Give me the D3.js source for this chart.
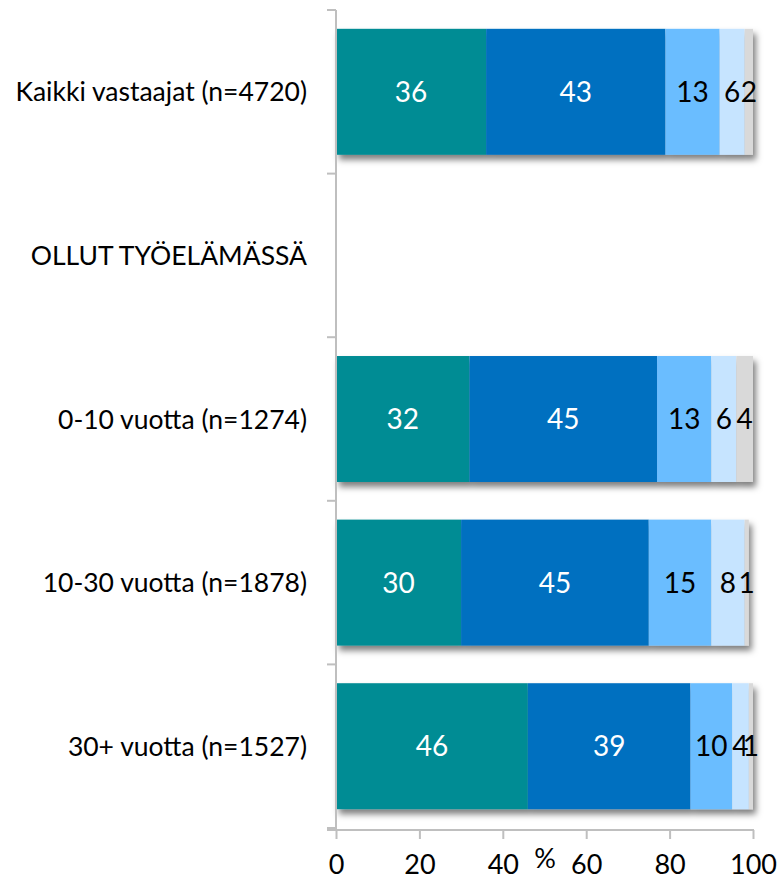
<!DOCTYPE html>
<html>
<head>
<meta charset="utf-8">
<script src="https://cdn.jsdelivr.net/npm/d3@7"></script>
<style>
  body { margin: 0; background: #fff; }
  svg { display: block; font-family: Lato, "Open Sans", sans-serif; }
</style>
</head>
<body>
<div id="chart"></div>
<script>
// data
var categories = ["Kaikki vastaajat (n=4720)", "OLLUT TYÖELÄMÄSSÄ", "0-10 vuotta (n=1274)", "10-30 vuotta (n=1878)", "30+ vuotta (n=1527)"];
var s1 = [36, null, 32, 30, 46];
var s2 = [43, null, 45, 45, 39];
var s3 = [13, null, 13, 15, 10];
var s4 = [6, null, 6, 8, 4];
var s5 = [2, null, 4, 1, 1];
var colors = ["#008C94", "#0070C0", "#6BBDFF", "#C6E4FF", "#D9D9D9"];
var textColors = ["#fff", "#fff", "#000", "#000", "#000"];
var xTicks = [0, 20, 40, 60, 80, 100];

var width = 782, height = 884;
var plotLeft = 336, plotRight = 753, plotTop = 10, plotBottom = 828;

var svg = d3.select("#chart").append("svg")
  .attr("width", width)
  .attr("height", height);

var defs = svg.append("defs");
var f = defs.append("filter").attr("id", "shadow")
  .attr("x", "-5%").attr("y", "-10%").attr("width", "115%").attr("height", "130%");
f.append("feDropShadow").attr("dx", 3).attr("dy", 5).attr("stdDeviation", 3)
  .attr("flood-color", "#000").attr("flood-opacity", 0.5);

var xScale = d3.scaleLinear().domain([0, 100]).range([plotLeft, plotRight]);
var yScale = d3.scaleBand().domain(categories).range([plotTop, plotBottom]).paddingInner(0.23).paddingOuter(0.115);

var rows = categories.map(function(c, i) {
  return { cat: c, vals: [s1[i], s2[i], s3[i], s4[i], s5[i]] };
});

// bars
rows.forEach(function(r) {
  if (r.vals[0] == null) return;
  var g = svg.append("g").attr("filter", "url(#shadow)");
  var acc = 0;
  var segs = r.vals.map(function(v, j) {
    var s = { x0: acc, x1: acc + v, v: v, j: j };
    acc += v;
    return s;
  });
  g.selectAll("rect").data(segs).enter().append("rect")
    .attr("x", d => xScale(d.x0))
    .attr("width", d => xScale(d.x1) - xScale(d.x0))
    .attr("y", yScale(r.cat))
    .attr("height", yScale.bandwidth())
    .attr("fill", d => colors[d.j]);
  svg.append("g").selectAll("text").data(segs).enter().append("text")
    .attr("x", d => xScale((d.x0 + d.x1) / 2))
    .attr("y", yScale(r.cat) + yScale.bandwidth() / 2)
    .attr("dy", "0.36em")
    .attr("text-anchor", "middle")
    .attr("font-size", 28)
    .attr("fill", d => textColors[d.j])
    .text(d => d.v);
});

// y axis
var yg = svg.append("g").attr("transform", "translate(" + plotLeft + ",0)");
yg.append("line").attr("y1", plotTop).attr("y2", plotBottom + 2).attr("stroke", "#BFBFBF").attr("stroke-width", 2);
var bounds = d3.range(categories.length + 1).map(i => plotTop + i * yScale.step());
yg.selectAll(".yt").data(bounds).enter().append("line")
  .attr("x1", -9).attr("x2", 0)
  .attr("y1", d => d).attr("y2", d => d)
  .attr("stroke", "#BFBFBF").attr("stroke-width", 2);

svg.append("g").selectAll("text").data(categories).enter().append("text")
  .attr("x", 307)
  .attr("y", d => yScale(d) + yScale.bandwidth() / 2)
  .attr("dy", "0.36em")
  .attr("text-anchor", "end")
  .attr("font-size", 26.5)
  .attr("fill", "#000")
  .text(d => d);

// x axis
var xAxis = d3.axisBottom(xScale).tickValues(xTicks).tickSize(9).tickPadding(16);
var xg = svg.append("g").attr("transform", "translate(0," + (plotBottom + 2) + ")").call(xAxis);
xg.select(".domain").remove();
xg.append("line").attr("x1", plotLeft - 9).attr("x2", plotRight + 1).attr("stroke", "#BFBFBF").attr("stroke-width", 2);
xg.selectAll(".tick line").attr("stroke", "#BFBFBF").attr("stroke-width", 2);
xg.selectAll(".tick text").attr("font-size", 27).attr("fill", "#000").attr("font-family", "Lato, sans-serif");

svg.append("text")
  .attr("x", 545).attr("y", 868)
  .attr("text-anchor", "middle")
  .attr("font-size", 27)
  .attr("fill", "#000")
  .text("%");
</script>
</body>
</html>
